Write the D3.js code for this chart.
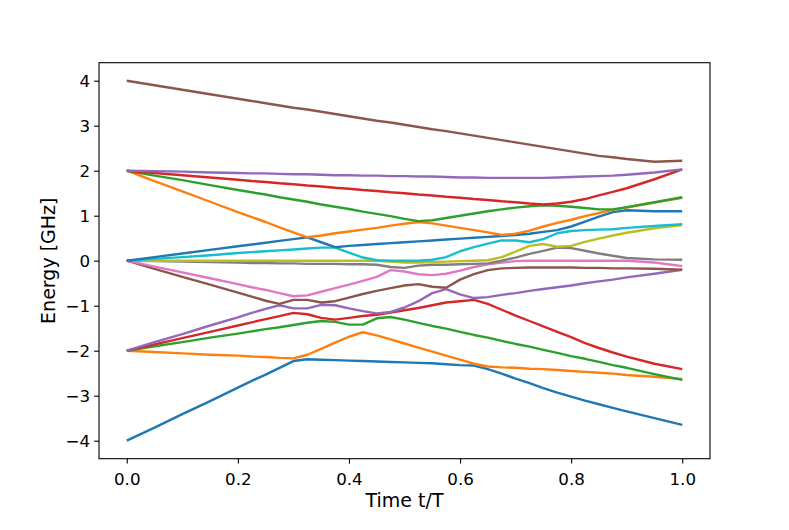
<!DOCTYPE html>
<html>
<head>
<meta charset="utf-8">
<script src="https://cdn.jsdelivr.net/npm/d3@7"></script>
<style>
    body { margin: 0; background: #fff; }
    .axis text { font-family: "DejaVu Sans", sans-serif; font-size: 16.7px; fill: #000; }
    .axis line, .axis path { stroke: #000; stroke-width: 1.1px; }
    .label { font-family: "DejaVu Sans", sans-serif; font-size: 19px; fill: #000; }
    .level { fill: none; stroke-width: 2.4px; stroke-linejoin: round; }
</style>
</head>
<body>
<div id="chart"></div>
<script>
// sample times (t/T)
const times = [0, 0.05, 0.1, 0.15, 0.2, 0.225, 0.25, 0.275, 0.3, 0.325, 0.35, 0.375, 0.4, 0.425, 0.45, 0.475,
    0.5, 0.525, 0.55, 0.575, 0.6, 0.625, 0.65, 0.675, 0.7, 0.725, 0.75, 0.775, 0.8, 0.825, 0.85, 0.875, 0.9, 0.95, 1.0];

// energy levels, lowest first (GHz)
const level0 = [-4, -3.71, -3.41, -3.12, -2.82, -2.67, -2.53, -2.38, -2.23, -2.19, -2.20, -2.21, -2.22, -2.23, -2.24, -2.25,
    -2.26, -2.27, -2.28, -2.30, -2.32, -2.33, -2.41, -2.51, -2.62, -2.72, -2.83, -2.93, -3.02, -3.11, -3.19, -3.27, -3.35, -3.50, -3.65];
const level1 = [-2, -2.03, -2.06, -2.09, -2.11, -2.13, -2.14, -2.16, -2.17, -2.09, -1.96, -1.82, -1.69, -1.59, -1.66, -1.75,
    -1.84, -1.93, -2.02, -2.11, -2.20, -2.29, -2.35, -2.37, -2.38, -2.40, -2.41, -2.43, -2.45, -2.47, -2.49, -2.51, -2.54, -2.58, -2.63];
const level2 = [-2, -1.90, -1.81, -1.71, -1.62, -1.57, -1.52, -1.48, -1.43, -1.38, -1.34, -1.36, -1.42, -1.42, -1.28, -1.25,
    -1.31, -1.38, -1.45, -1.51, -1.58, -1.65, -1.71, -1.78, -1.85, -1.91, -1.98, -2.05, -2.12, -2.18, -2.25, -2.32, -2.38, -2.52, -2.65];
const level3 = [-2, -1.86, -1.72, -1.58, -1.44, -1.37, -1.30, -1.23, -1.16, -1.19, -1.27, -1.31, -1.27, -1.23, -1.20, -1.15,
    -1.10, -1.05, -0.99, -0.93, -0.90, -0.87, -0.96, -1.09, -1.22, -1.34, -1.46, -1.58, -1.70, -1.83, -1.94, -2.04, -2.13, -2.29, -2.41];
const level4 = [-2, -1.81, -1.63, -1.44, -1.26, -1.16, -1.07, -0.99, -1.06, -1.06, -0.98, -0.99, -1.06, -1.12, -1.17, -1.14,
    -1.04, -0.90, -0.72, -0.63, -0.75, -0.83, -0.81, -0.76, -0.72, -0.67, -0.63, -0.59, -0.55, -0.50, -0.46, -0.42, -0.37, -0.29, -0.20];
const level5 = [0, -0.18, -0.36, -0.53, -0.71, -0.80, -0.89, -0.96, -0.87, -0.87, -0.93, -0.90, -0.82, -0.74, -0.67, -0.61,
    -0.55, -0.52, -0.58, -0.60, -0.42, -0.30, -0.21, -0.17, -0.16, -0.15, -0.15, -0.15, -0.15, -0.16, -0.16, -0.17, -0.17, -0.18, -0.20];
const level6 = [0, -0.13, -0.26, -0.39, -0.52, -0.59, -0.65, -0.72, -0.79, -0.77, -0.69, -0.61, -0.53, -0.45, -0.36, -0.21,
    -0.24, -0.30, -0.32, -0.29, -0.22, -0.14, -0.08, -0.04, -0.01, 0, 0, 0, 0, 0, 0, 0, 0, -0.04, -0.12];
const level7 = [0, -0.01, -0.02, -0.03, -0.04, -0.05, -0.05, -0.06, -0.06, -0.07, -0.07, -0.07, -0.08, -0.08, -0.09, -0.14,
    -0.16, -0.11, -0.09, -0.09, -0.08, -0.07, -0.06, 0.0, 0.07, 0.15, 0.22, 0.29, 0.28, 0.22, 0.16, 0.11, 0.06, 0.03, 0.02];
const level8 = [0, 0, 0, 0, 0, 0, 0, 0, 0, 0, 0, 0, 0, 0, 0, -0.02,
    -0.04, -0.04, -0.03, -0.02, -0.01, 0.0, 0.01, 0.08, 0.20, 0.33, 0.37, 0.31, 0.33, 0.42, 0.49, 0.56, 0.62, 0.72, 0.79];
const level9 = [0, 0.04, 0.08, 0.12, 0.17, 0.19, 0.21, 0.23, 0.25, 0.27, 0.29, 0.29, 0.18, 0.07, 0.01, 0.0,
    0.0, 0.0, 0.02, 0.08, 0.21, 0.30, 0.38, 0.45, 0.45, 0.41, 0.48, 0.61, 0.66, 0.68, 0.69, 0.70, 0.73, 0.77, 0.81];
const level10 = [0, 0.08, 0.16, 0.24, 0.32, 0.36, 0.40, 0.44, 0.48, 0.52, 0.41, 0.30, 0.33, 0.35, 0.37, 0.39,
    0.41, 0.43, 0.45, 0.47, 0.49, 0.51, 0.53, 0.55, 0.57, 0.60, 0.64, 0.68, 0.76, 0.87, 0.98, 1.08, 1.12, 1.10, 1.10];
const level11 = [2, 1.77, 1.54, 1.31, 1.08, 0.97, 0.86, 0.74, 0.63, 0.52, 0.56, 0.61, 0.65, 0.69, 0.73, 0.78,
    0.82, 0.86, 0.83, 0.78, 0.73, 0.68, 0.63, 0.57, 0.60, 0.67, 0.76, 0.84, 0.91, 0.99, 1.06, 1.13, 1.18, 1.29, 1.40];
const level12 = [2, 1.89, 1.79, 1.68, 1.57, 1.52, 1.47, 1.41, 1.36, 1.31, 1.25, 1.20, 1.15, 1.09, 1.04, 0.99,
    0.93, 0.88, 0.90, 0.95, 1.00, 1.05, 1.10, 1.14, 1.18, 1.21, 1.23, 1.22, 1.20, 1.17, 1.14, 1.14, 1.19, 1.30, 1.41];
const level13 = [2, 1.95, 1.90, 1.85, 1.80, 1.77, 1.75, 1.72, 1.70, 1.67, 1.65, 1.62, 1.60, 1.57, 1.55, 1.52,
    1.50, 1.47, 1.45, 1.42, 1.40, 1.37, 1.35, 1.32, 1.30, 1.27, 1.25, 1.27, 1.31, 1.37, 1.45, 1.53, 1.61, 1.81, 2.03];
const level14 = [2, 1.99, 1.98, 1.96, 1.95, 1.94, 1.94, 1.93, 1.92, 1.92, 1.91, 1.90, 1.90, 1.89, 1.89, 1.88,
    1.88, 1.87, 1.87, 1.86, 1.85, 1.85, 1.84, 1.84, 1.84, 1.84, 1.84, 1.85, 1.86, 1.87, 1.88, 1.89, 1.91, 1.96, 2.03];
const level15 = [4, 3.90, 3.80, 3.70, 3.60, 3.55, 3.50, 3.45, 3.40, 3.36, 3.31, 3.26, 3.21, 3.16, 3.11, 3.07,
    3.02, 2.97, 2.92, 2.88, 2.83, 2.78, 2.73, 2.68, 2.63, 2.58, 2.53, 2.48, 2.43, 2.38, 2.33, 2.30, 2.26, 2.20, 2.22];

const xTicks = [0, 0.2, 0.4, 0.6, 0.8, 1.0];
const yTicks = [-4, -3, -2, -1, 0, 1, 2, 3, 4];

document.addEventListener('DOMContentLoaded', function() {
    const W = 789, H = 530;
    const margin = { top: 62.7, right: 79, bottom: 71.3, left: 99 };
    const width = W - margin.left - margin.right;
    const height = H - margin.top - margin.bottom;

    const levels = [level0, level1, level2, level3, level4, level5, level6, level7,
        level8, level9, level10, level11, level12, level13, level14, level15];
    const colors = d3.schemeCategory10;

    const svg = d3.select("#chart")
        .append("svg")
        .attr("width", W)
        .attr("height", H)
        .append("g")
        .attr("transform", `translate(${margin.left},${margin.top})`);

    // Scales
    const x = d3.scaleLinear().domain([-0.05, 1.05]).range([0, width]);
    const y = d3.scaleLinear().domain([-4.4, 4.4]).range([height, 0]);

    const line = d3.line()
        .x((d, i) => x(times[i]))
        .y(d => y(d));

    // Lines, drawn in order so later levels sit on top
    svg.selectAll(".level")
        .data(levels)
        .enter().append("path")
        .attr("class", "level")
        .attr("stroke", (d, i) => colors[i % 10])
        .attr("d", line);

    // Frame
    svg.append("rect")
        .attr("width", width)
        .attr("height", height)
        .attr("fill", "none")
        .attr("stroke", "#000")
        .attr("stroke-width", 1.1);

    // X axis
    svg.append("g")
        .attr("class", "x axis")
        .attr("transform", `translate(0,${height})`)
        .call(d3.axisBottom(x).tickValues(xTicks).tickFormat(d3.format(".1f"))
            .tickSize(4.9).tickSizeOuter(0).tickPadding(10))
        .call(g => g.select(".domain").remove());

    // Y axis
    svg.append("g")
        .attr("class", "y axis")
        .call(d3.axisLeft(y).tickValues(yTicks).tickFormat(d3.format("d"))
            .tickSize(4.9).tickSizeOuter(0).tickPadding(4))
        .call(g => g.select(".domain").remove());

    // Axis labels
    svg.append("text")
        .attr("class", "label")
        .attr("x", width / 2)
        .attr("y", 507 - margin.top)
        .attr("text-anchor", "middle")
        .text("Time t/T");

    svg.append("text")
        .attr("class", "label")
        .attr("transform", `translate(${55 - margin.left},${height / 2}) rotate(-90)`)
        .attr("text-anchor", "middle")
        .text("Energy [GHz]");
});
</script>
</body>
</html>
